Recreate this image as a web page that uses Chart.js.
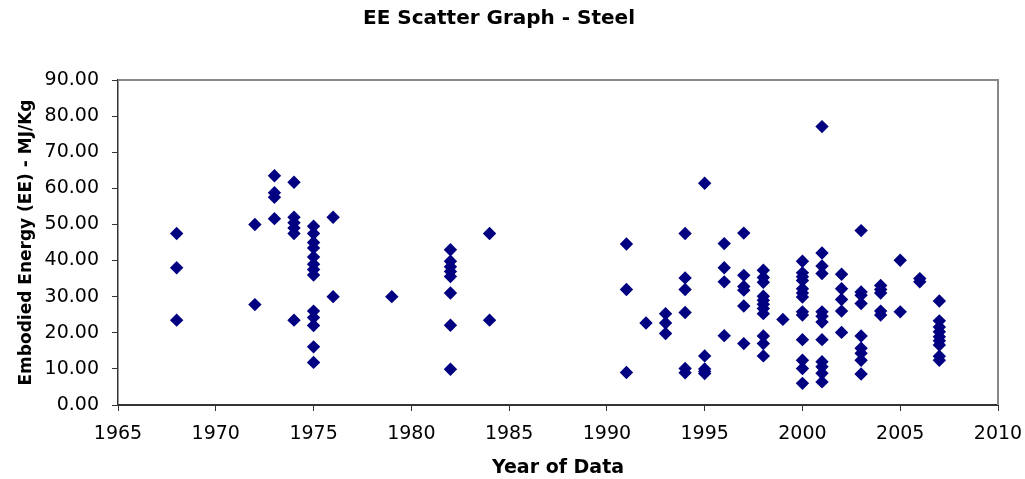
<!DOCTYPE html>
<html>
<head>
<meta charset="utf-8">
<title>EE Scatter Graph - Steel</title>
<script src="https://cdn.jsdelivr.net/npm/chart.js@4/dist/chart.umd.min.js"></script>
<style>
  html, body { margin: 0; padding: 0; background: #fff; }
  #wrap { width: 1025px; height: 479px; }
</style>
</head>
<body>
<div id="wrap"><canvas id="eeChart" width="1025" height="479"></canvas></div>
<script>
/* ── Data ──────────────────────────────────────────────── */
const years = [1968, 1972, 1973, 1974, 1975, 1976, 1979, 1982, 1984,
               1991, 1992, 1993, 1994, 1995, 1996, 1997, 1998, 1999,
               2000, 2001, 2002, 2003, 2004, 2005, 2006, 2007];

// embodied energy values (MJ/Kg) for each year, same order as `years`
const eeValues = [
  [47.5, 38.0, 23.5],
  [50.0, 27.8],
  [63.5, 58.8, 57.5, 51.6],
  [61.7, 52.0, 50.5, 49.0, 47.5, 23.5],
  [49.5, 47.5, 45.0, 43.5, 41.0, 39.0, 37.5, 36.0, 26.0, 24.2, 22.0, 16.1, 11.8],
  [52.0, 30.0],
  [30.0],
  [43.0, 39.8, 38.3, 37.0, 35.6, 31.0, 22.1, 9.9],
  [47.5, 23.5],
  [44.6, 32.0, 9.0],
  [22.7],
  [25.3, 22.7, 19.8],
  [47.5, 35.2, 32.0, 25.6, 10.1, 8.9],
  [61.4, 13.6, 10.0, 9.3, 8.7],
  [44.7, 38.0, 34.1, 19.2],
  [47.6, 35.9, 32.8, 31.8, 27.4, 17.0],
  [37.3, 35.3, 34.0, 30.1, 29.0, 27.9, 26.7, 25.3, 19.1, 17.0, 13.6],
  [23.7],
  [39.8, 36.6, 35.5, 34.5, 32.2, 31.0, 29.9, 25.8, 24.9, 18.1, 12.4, 10.1, 6.0],
  [77.1, 42.1, 38.5, 36.4, 25.8, 24.6, 23.0, 18.1, 12.0, 10.6, 8.8, 6.4],
  [36.2, 32.2, 29.2, 26.0, 20.1],
  [48.3, 31.3, 30.4, 28.1, 19.1, 15.7, 14.3, 12.4, 8.6],
  [33.1, 32.0, 31.0, 26.0, 24.9],
  [40.1, 25.8],
  [35.0, 34.1],
  [28.8, 23.3, 21.6, 20.3, 18.9, 17.8, 16.6, 13.5, 12.4],
];

const xTicks = [1965, 1970, 1975, 1980, 1985, 1990, 1995, 2000, 2005, 2010];
const yTicks = [0, 10, 20, 30, 40, 50, 60, 70, 80, 90];

/* ── Build points ──────────────────────────────────────── */
const points = [];
years.forEach((yr, i) => {
  eeValues[i].forEach(v => points.push({ x: yr, y: v }));
});

const FONT = "'DejaVu Sans', 'Liberation Sans', Arial, sans-serif";

// gray frame on the top and right of the plot area
const frame = {
  id: "frame",
  beforeDatasetsDraw(chart) {
    const { ctx, chartArea: a } = chart;
    ctx.save();
    ctx.strokeStyle = "#888";
    ctx.lineWidth = 2;
    ctx.beginPath();
    ctx.moveTo(a.left, a.top);
    ctx.lineTo(a.right, a.top);
    ctx.lineTo(a.right, a.bottom);
    ctx.stroke();
    ctx.restore();
  },
};

new Chart(document.getElementById("eeChart"), {
  type: "scatter",
  data: {
    datasets: [{
      data: points,
      pointStyle: "rectRot",
      pointRadius: 6.7,
      pointHoverRadius: 6.7,
      borderWidth: 0,
      backgroundColor: "#000080",
      borderColor: "#000080",
    }],
  },
  options: {
    responsive: false,
    animation: false,
    layout: { padding: { left: 0, right: 27, top: 0, bottom: 0 } },
    plugins: {
      legend: { display: false },
      tooltip: { enabled: false },
      title: {
        display: true,
        text: "EE Scatter Graph - Steel",
        color: "#000",
        font: { family: FONT, size: 20, weight: "bold", lineHeight: 1.2 },
        padding: { top: 7, bottom: 49 },
      },
    },
    scales: {
      x: {
        type: "linear",
        min: 1965,
        max: 2010,
        afterBuildTicks: s => { s.ticks = xTicks.map(v => ({ value: v })); },
        afterFit: s => {
          s.height = 74;
          s.paddingLeft = 0;
          s.paddingRight = 0;
        },
        ticks: {
          color: "#000",
          font: { family: FONT, size: 19 },
          padding: 12,
          maxRotation: 0,
          callback: v => String(v),
        },
        grid: { drawOnChartArea: false, tickLength: 6, color: "#333", lineWidth: 1 },
        border: { display: true, color: "#333", width: 2 },
        title: {
          display: true,
          text: "Year of Data",
          color: "#000",
          font: { family: FONT, size: 19, weight: "bold", lineHeight: 1.2 },
          padding: { top: 0, bottom: 0 },
        },
      },
      y: {
        min: 0,
        max: 90,
        afterBuildTicks: s => { s.ticks = yTicks.map(v => ({ value: v })); },
        afterFit: s => { s.width = 118; },
        ticks: {
          color: "#000",
          font: { family: FONT, size: 19 },
          padding: 13,
          callback: v => v.toFixed(2),
        },
        grid: { drawOnChartArea: false, tickLength: 6, color: "#333", lineWidth: 1 },
        border: { display: true, color: "#333", width: 1.5 },
        title: {
          display: true,
          text: "Embodied Energy (EE) - MJ/Kg",
          color: "#000",
          font: { family: FONT, size: 17, weight: "bold", lineHeight: 1.2 },
          padding: { top: 16, bottom: 0 },
        },
      },
    },
  },
  plugins: [frame],
});
</script>
</body>
</html>
